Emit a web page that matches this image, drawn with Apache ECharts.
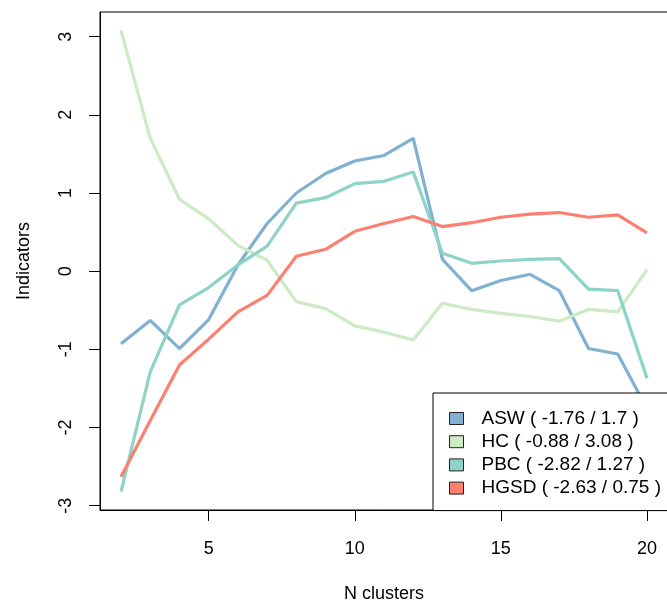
<!DOCTYPE html>
<html>
<head>
<meta charset="utf-8">
<script src="https://cdn.jsdelivr.net/npm/echarts@6/dist/echarts.min.js"></script>
<style>
html,body{margin:0;padding:0;background:#fff;}
#chart{width:667px;height:603px;}
</style>
</head>
<body>
<div id="chart"></div>
<script>
const nClusters = [2,3,4,5,6,7,8,9,10,11,12,13,14,15,16,17,18,19,20];
const seriesNames = ['ASW','HC','PBC','HGSD'];
const ASW  = [-0.93,-0.63,-0.99,-0.62,0.08,0.61,1.0,1.25,1.41,1.48,1.7,0.15,-0.25,-0.12,-0.04,-0.25,-0.99,-1.06,-1.76];
const HC   = [3.08,1.70,0.92,0.67,0.33,0.14,-0.39,-0.48,-0.70,-0.78,-0.88,-0.41,-0.49,-0.54,-0.58,-0.64,-0.49,-0.52,0.02];
const PBC  = [-2.82,-1.29,-0.43,-0.21,0.08,0.32,0.87,0.94,1.12,1.15,1.27,0.23,0.10,0.13,0.15,0.16,-0.23,-0.25,-1.37];
const HGSD = [-2.63,-1.91,-1.20,-0.87,-0.52,-0.31,0.19,0.28,0.51,0.61,0.70,0.57,0.62,0.69,0.73,0.75,0.69,0.72,0.49];
const xTicks = [5,10,15,20];
const yTicks = [-3,-2,-1,0,1,2,3];
const colors = ['#80B1D3','#CCEBC5','#8DD3C7','#FB8072'];

const valuesByName = {ASW, HC, PBC, HGSD};
const FONT = '"Liberation Sans", Arial, sans-serif';

const chart = echarts.init(document.getElementById('chart'), null, {renderer:'canvas'});
const option = {
  animation: false,
  backgroundColor: '#fff',
  textStyle: {fontFamily: FONT},
  grid: {left: 100, top: 12, width: 568, height: 498, outerBoundsMode: 'none', containLabel: false,
         show: true, borderColor: '#000', borderWidth: 1, backgroundColor: 'transparent'},
  xAxis: {
    type: 'value', min: 1.28, max: 20.72,
    name: 'N clusters', nameLocation: 'middle', nameGap: 75,
    nameTextStyle: {fontSize: 18, color: '#000', fontFamily: FONT},
    axisLine: {show: true, onZero: false, lineStyle: {color: '#000', width: 1}},
    axisTick: {show: true, length: 11, customValues: xTicks, lineStyle: {color: '#000', width: 1}},
    axisLabel: {customValues: xTicks, fontSize: 18, color: '#000', margin: 30, fontFamily: FONT},
    splitLine: {show: false}
  },
  yAxis: {
    type: 'value', min: -3.056, max: 3.316,
    name: 'Indicators', nameLocation: 'middle', nameGap: 67, nameRotate: 90,
    nameTextStyle: {fontSize: 18, color: '#000', fontFamily: FONT},
    axisLine: {show: true, onZero: false, lineStyle: {color: '#000', width: 1}},
    axisTick: {show: true, length: 11, customValues: yTicks, lineStyle: {color: '#000', width: 1}},
    axisLabel: {customValues: yTicks, fontSize: 18, color: '#000', margin: 25, rotate: 90, fontFamily: FONT},
    splitLine: {show: false}
  },
  legend: {
    orient: 'vertical', left: 433, top: 393,
    padding: [16, 40, 13, 16],
    borderColor: '#000', borderWidth: 1, backgroundColor: '#fff',
    itemWidth: 14, itemHeight: 12, itemGap: 4.2,
    icon: 'rect',
    itemStyle: {borderColor: '#222', borderWidth: 1},
    data: seriesNames.map(n => ({name: n, icon: 'rect'})),
    formatter: function(name) {
      const v = valuesByName[name];
      return '{t|' + name + ' ( ' + Math.min.apply(null, v) + ' / ' + Math.max.apply(null, v) + ' )}';
    },
    textStyle: {
      fontSize: 19, color: '#000', fontFamily: FONT,
      rich: {t: {fontSize: 19, lineHeight: 20, color: '#000', padding: [0, 0, 0, 13], fontFamily: FONT}}
    }
  },
  series: seriesNames.map((n, i) => ({
    name: n, type: 'line', symbol: 'none', smooth: false,
    color: colors[i],
    itemStyle: {color: colors[i]},
    lineStyle: {color: colors[i], width: 3.2},
    data: nClusters.map((k, j) => [k, valuesByName[n][j]])
  }))
};
chart.setOption(option);
</script>
</body>
</html>
